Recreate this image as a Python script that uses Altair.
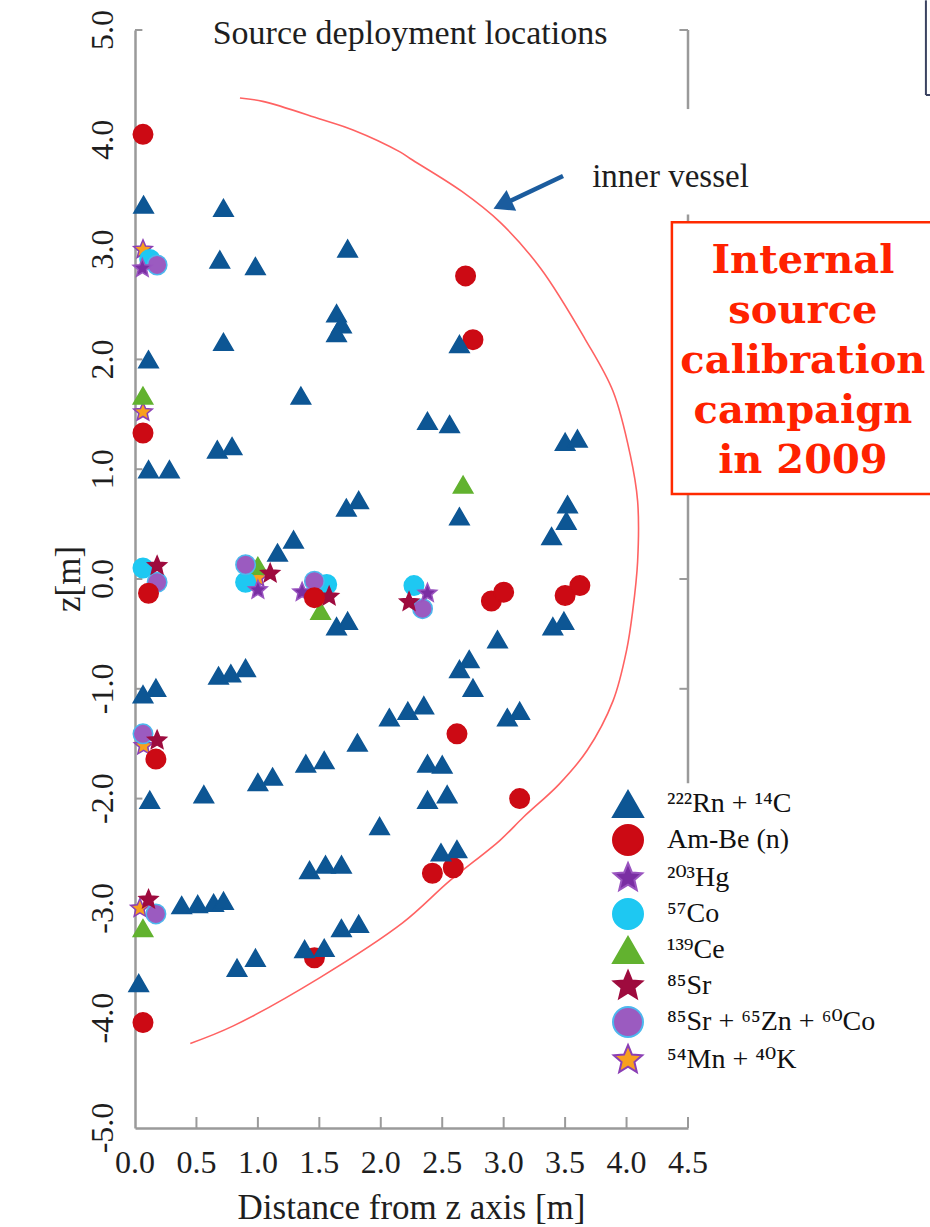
import altair as alt
import pandas as pd

# ---------------- data ----------------
SOURCES = ["²²²Rn + ¹⁴C", "Am-Be (n)", "²⁰³Hg", "⁵⁷Co", "¹³⁹Ce", "⁸⁵Sr",
           "⁸⁵Sr + ⁶⁵Zn + ⁶⁰Co", "⁵⁴Mn + ⁴⁰K"]
FILLS = ["#0d5694", "#cc0a14", "#7a2ea3", "#1ec8f2", "#62b22f", "#9e0b3e", "#9b5bc0", "#f8a01e"]
STROKES = ["#0d5694", "#cc0a14", "#9a55c0", "#1ec8f2", "#62b22f", "#9e0b3e", "#4db8ee", "#8b3fb5"]
STAR = ("M0,-1L0.265,-0.364L0.951,-0.309L0.428,0.139L0.588,0.809L0,0.45"
        "L-0.588,0.809L-0.428,0.139L-0.951,-0.309L-0.265,-0.364Z")
SHAPES = ["triangle-up", "circle", STAR, "circle", "triangle-up", STAR, "circle", STAR]

rn_r = [0.07, 0.72, 0.69, 0.98, 1.73, 1.64, 1.68, 1.64, 0.72, 0.11, 1.35, 2.64, 2.38, 2.56,
        3.50, 3.60, 0.67, 0.79, 0.11, 0.28, 1.72, 1.82, 2.64, 3.52, 3.51, 3.39, 1.29, 1.16,
        1.64, 1.73, 3.40, 3.49, 2.95, 2.64, 2.72, 2.75, 0.68, 0.78, 0.90, 0.065, 0.17, 2.07,
        2.22, 2.35, 3.03, 3.13, 1.81, 1.39, 1.54, 2.38, 2.50, 1.00, 1.12, 0.56, 0.12, 2.38,
        2.54, 1.99, 1.42, 1.55, 1.68, 2.49, 2.62, 0.38, 0.51, 0.64, 0.72, 1.68, 1.82, 0.83,
        0.98, 1.38, 1.54, 0.03]
rn_z = [3.41, 3.38, 2.91, 2.85, 3.01, 2.42, 2.32, 2.24, 2.16, 2.00, 1.67, 2.14, 1.44, 1.41,
        1.25, 1.28, 1.18, 1.21, 1.00, 1.00, 0.65, 0.72, 0.57, 0.68, 0.53, 0.39, 0.36, 0.24,
        -0.43, -0.38, -0.43, -0.38, -0.55, -0.82, -0.73, -0.99, -0.88, -0.86, -0.81, -1.05,
        -0.99, -1.26, -1.20, -1.15, -1.26, -1.20, -1.49, -1.68, -1.65, -1.68, -1.69, -1.85,
        -1.80, -1.96, -2.01, -2.01, -1.96, -2.25, -2.65, -2.60, -2.60, -2.49, -2.46, -2.97,
        -2.96, -2.95, -2.93, -3.18, -3.14, -3.54, -3.45, -3.37, -3.36, -3.68]

ambe_r = [0.065, 2.69, 2.75, 0.065, 0.11, 1.46, 2.90, 3.00, 3.50, 3.62, 2.62, 0.17, 3.13,
          2.42, 2.59, 1.46, 0.065]
ambe_z = [4.05, 2.76, 2.18, 1.33, -0.13, -0.17, -0.20, -0.12, -0.15, -0.06, -1.41, -1.64,
          -2.00, -2.68, -2.63, -3.45, -4.04]

hg_r = [0.06, 1.00, 1.36, 2.38]
hg_z = [2.83, -0.10, -0.12, -0.13]

co57_r = [0.12, 0.065, 0.90, 1.56, 2.27]
co57_z = [2.91, 0.10, -0.03, -0.05, -0.06]

ce_r = [0.065, 2.67, 1.00, 1.51, 0.065]
ce_z = [1.67, 0.86, 0.12, -0.29, -3.18]

sr_r = [0.18, 1.10, 1.58, 2.23, 0.18, 0.11]
sr_z = [0.12, 0.05, -0.16, -0.21, -1.47, -2.92]

srznco_r = [0.18, 0.18, 0.90, 1.46, 2.34, 0.065, 0.17]
srznco_z = [2.86, -0.03, 0.13, -0.02, -0.27, -1.41, -3.05]

mnk_r = [0.065, 0.065, 1.00, 0.07, 0.04]
mnk_z = [3.00, 1.52, 0.01, -1.52, -3.00]

vessel_r = [0.854, 1.04, 1.505, 1.774, 2.156, 2.238, 2.66, 2.97, 3.30, 3.66, 3.89, 4.03,
            4.09, 4.09, 4.05, 4.00, 3.89, 3.68, 3.45, 3.16, 2.97, 2.56, 2.18, 1.505, 0.80, 0.45]
vessel_z = [4.38, 4.35, 4.19, 4.09, 3.89, 3.83, 3.53, 3.25, 2.83, 2.19, 1.71, 1.13,
            0.71, 0.16, -0.29, -0.65, -1.11, -1.56, -1.87, -2.17, -2.38, -2.75, -3.13,
            -3.63, -4.07, -4.23]

x_ticks = [0.0, 0.5, 1.0, 1.5, 2.0, 2.5, 3.0, 3.5, 4.0, 4.5]
x_tick_labels = ["0.0", "0.5", "1.0", "1.5", "2.0", "2.5", "3.0", "3.5", "4.0", "4.5"]
y_ticks = [-5.0, -4.0, -3.0, -2.0, -1.0, 0.0, 1.0, 2.0, 3.0, 4.0, 5.0]
y_tick_labels = ["-5.0", "-4.0", "-3.0", "-2.0", "-1.0", "0.0", "1.0", "2.0", "3.0", "4.0", "5.0"]

box_lines = ["Internal", "source", "calibration", "campaign", "in 2009"]
box_line_z = [2.787, 2.332, 1.876, 1.421, 0.965]

# ---------------- tables ----------------
draw_order = [(7, mnk_r, mnk_z), (4, ce_r, ce_z), (3, co57_r, co57_z),
              (6, srznco_r, srznco_z), (2, hg_r, hg_z), (5, sr_r, sr_z),
              (1, ambe_r, ambe_z), (0, rn_r, rn_z)]
rows = []
for idx, rs, zs in draw_order:
    for r, z in zip(rs, zs):
        rows.append({"src": SOURCES[idx], "r": r, "z": z})
pts = pd.DataFrame(rows)

vessel = pd.DataFrame({"r": vessel_r, "z": vessel_z, "i": list(range(len(vessel_r)))})

SERIF = "Liberation Serif"
GRAY = "#9a9a9a"
INK = "#1e1e1e"

xs = alt.Scale(domain=[0, 4.5], nice=False, zero=False)
ys = alt.Scale(domain=[-5, 5], nice=False, zero=False)

xaxis = alt.Axis(values=x_ticks, labels=False, ticks=False, tickSize=0, grid=False,
                 domainColor=GRAY, domainWidth=2.5, title=None)
yaxis = alt.Axis(values=y_ticks, labels=False, ticks=False, tickSize=0, grid=False,
                 domainColor=GRAY, domainWidth=2.5, title=None)

def X(f):
    return alt.X(f, scale=xs, axis=xaxis, title=None)

def Y(f):
    return alt.Y(f, scale=ys, axis=yaxis, title=None)

# vessel outline
vessel_line = alt.Chart(vessel).mark_line(color="#ff6262", strokeWidth=1.6,
                                          interpolate="catmull-rom").encode(
    x=X("r:Q"), y=Y("z:Q"), order="i:O")

# inward ticks and right frame
left_ticks = pd.DataFrame({"x": 0.0, "x2": 0.06, "y": [t for t in y_ticks if t > -5]})
bottom_ticks = pd.DataFrame({"x": [t for t in x_ticks if t > 0], "y": -5.0, "y2": -4.9})
right_ticks = pd.DataFrame({"x": 4.43, "x2": 4.5, "y": [5.0, 0.0, -1.0]})
right_frame = pd.DataFrame({"x": 4.5, "y": [5.0, 3.32], "y2": [4.28, -1.86]})

lt = alt.Chart(left_ticks).mark_rule(color=GRAY, strokeWidth=2).encode(
    x=X("x:Q"), x2="x2:Q", y=Y("y:Q"))
bt = alt.Chart(bottom_ticks).mark_rule(color=GRAY, strokeWidth=2).encode(
    x=X("x:Q"), y=Y("y:Q"), y2="y2:Q")
rt = alt.Chart(right_ticks).mark_rule(color=GRAY, strokeWidth=2).encode(
    x=X("x:Q"), x2="x2:Q", y=Y("y:Q"))
rf = alt.Chart(right_frame).mark_rule(color=GRAY, strokeWidth=2.5).encode(
    x=X("x:Q"), y=Y("y:Q"), y2="y2:Q")

# tick labels and axis titles as text (rotated text: dy moves horizontally)
xl_df = pd.DataFrame({"x": x_ticks, "y": -5.0, "t": x_tick_labels})
xl = alt.Chart(xl_df).mark_text(font=SERIF, fontSize=32, color=INK, align="center",
                                baseline="middle", dy=35).encode(
    x=X("x:Q"), y=Y("y:Q"), text="t:N")
yl_df = pd.DataFrame({"x": 0.0, "y": y_ticks, "t": y_tick_labels})
yl = alt.Chart(yl_df).mark_text(font=SERIF, fontSize=32, color=INK, align="center",
                                baseline="middle", angle=270, dy=-32).encode(
    x=X("x:Q"), y=Y("y:Q"), text="t:N")
xt_df = pd.DataFrame({"x": [2.25], "y": [-5.0], "t": ["Distance from z axis [m]"]})
xt = alt.Chart(xt_df).mark_text(font=SERIF, fontSize=35, color=INK, align="center",
                                baseline="middle", dy=80).encode(
    x=X("x:Q"), y=Y("y:Q"), text="t:N")
yt_df = pd.DataFrame({"x": [0.0], "y": [0.0], "t": ["z[m]"]})
yt = alt.Chart(yt_df).mark_text(font=SERIF, fontSize=35, color=INK, align="center",
                                baseline="middle", angle=270, dy=-66).encode(
    x=X("x:Q"), y=Y("y:Q"), text="t:N")

# corner artifact at top right
corner = pd.DataFrame({"x": [6.436, 6.436], "x2": [6.436, 6.52], "y": [5.27, 4.408], "y2": [4.408, 4.408]})
cr = alt.Chart(corner).mark_rule(color="#3a4260", strokeWidth=2).encode(
    x=X("x:Q"), x2="x2:Q", y=Y("y:Q"), y2="y2:Q")

# points
scatter = alt.Chart(pts).mark_point(filled=True, opacity=1, strokeWidth=1.5, size=380).encode(
    x=X("r:Q"), y=Y("z:Q"),
    fill=alt.Fill("src:N", scale=alt.Scale(domain=SOURCES, range=FILLS), title=None),
    stroke=alt.Stroke("src:N", scale=alt.Scale(domain=SOURCES, range=STROKES), title=None),
    shape=alt.Shape("src:N", scale=alt.Scale(domain=SOURCES, range=SHAPES), title=None),
)

# title inside the plot
title_df = pd.DataFrame({"x": [2.238], "y": [4.87], "t": ["Source deployment locations"]})
title_t = alt.Chart(title_df).mark_text(font=SERIF, fontSize=34, color=INK,
                                        align="center", baseline="alphabetic").encode(
    x=X("x:Q"), y=Y("y:Q"), text="t:N")

# inner vessel label and arrow
iv_df = pd.DataFrame({"x": [3.72], "y": [3.57], "t": ["inner vessel"]})
iv_t = alt.Chart(iv_df).mark_text(font=SERIF, fontSize=33, color=INK,
                                  align="left", baseline="alphabetic").encode(
    x=X("x:Q"), y=Y("y:Q"), text="t:N")
arrow_df = pd.DataFrame({"x": [3.483, 3.01], "y": [3.67, 3.42], "i": [0, 1]})
arrow_l = alt.Chart(arrow_df).mark_line(color="#1b5c9e", strokeWidth=4.5).encode(
    x=X("x:Q"), y=Y("y:Q"), order="i:O")
head_df = pd.DataFrame({"x": [2.99], "y": [3.41]})
arrow_h = alt.Chart(head_df).mark_point(shape="triangle-up", filled=True, opacity=1,
                                        color="#1b5c9e", size=520, angle=245).encode(
    x=X("x:Q"), y=Y("y:Q"))

# annotation box
box_df = pd.DataFrame({"x": [4.369], "x2": [7.2], "y": [3.25], "y2": [0.774]})
box = alt.Chart(box_df).mark_rect(fill="white", stroke="#ff2a00", strokeWidth=2.5).encode(
    x=X("x:Q"), x2="x2:Q", y=Y("y:Q"), y2="y2:Q")
bl_df = pd.DataFrame({"x": 5.435, "y": box_line_z, "t": box_lines})
box_t = alt.Chart(bl_df).mark_text(font="DejaVu Serif", fontSize=40, fontWeight="bold",
                                   color="#ff2200", align="center",
                                   baseline="alphabetic").encode(
    x=X("x:Q"), y=Y("y:Q"), text="t:N")

chart = alt.layer(
    vessel_line, lt, bt, rt, rf, xl, yl, xt, yt, cr, scatter, title_t, iv_t,
    arrow_l, arrow_h, box, box_t
).properties(
    width=553, height=1098,
    autosize=alt.AutoSizeParams(type="none"),
    padding={"left": 135, "top": 30, "right": 242, "bottom": 99},
    background="white",
).configure_view(stroke=None).configure_legend(
    orient="none", legendX=473, legendY=754, title=None,
    labelFont="Liberation Serif, DejaVu Serif", labelFontSize=28, labelColor="#111111",
    labelOffset=23, symbolSize=900, symbolStrokeWidth=2, symbolOpacity=1, rowPadding=0,
    padding=4, fillColor="white", strokeColor="white", labelLimit=400,
)

chart.save("out.html", embed_options={"renderer": "svg", "actions": False})
